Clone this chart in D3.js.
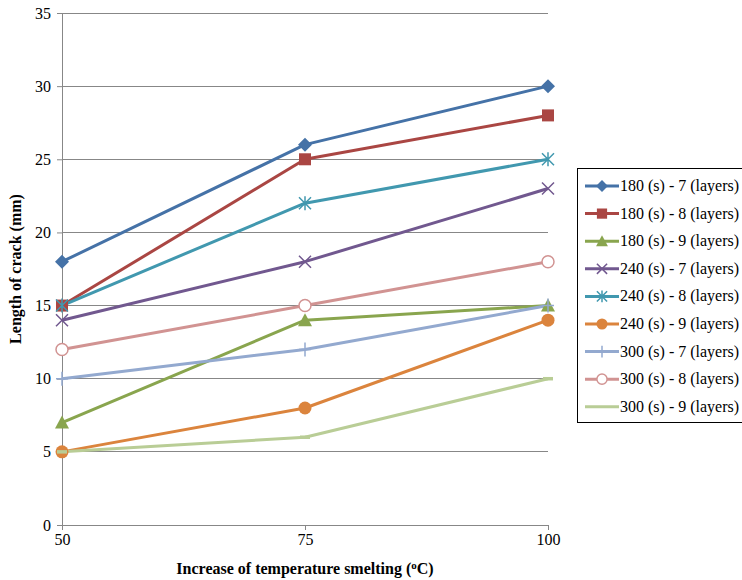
<!DOCTYPE html>
<html><head><meta charset="utf-8">
<script src="https://cdn.jsdelivr.net/npm/d3@7"></script>
<style>body{margin:0;background:#fff}svg{display:block}</style>
</head><body>
<script>
const categories = [50, 75, 100];
const seriesNames = ["180 (s) - 7 (layers)","180 (s) - 8 (layers)","180 (s) - 9 (layers)","240 (s) - 7 (layers)","240 (s) - 8 (layers)","240 (s) - 9 (layers)","300 (s) - 7 (layers)","300 (s) - 8 (layers)","300 (s) - 9 (layers)"];
const s180_7 = [18, 26, 30];
const s180_8 = [15, 25, 28];
const s180_9 = [7, 14, 15];
const s240_7 = [14, 18, 23];
const s240_8 = [15, 22, 25];
const s240_9 = [5, 8, 14];
const s300_7 = [10, 12, 15];
const s300_8 = [12, 15, 18];
const s300_9 = [5, 6, 10];
const yTicks = [0, 5, 10, 15, 20, 25, 30, 35];
const colors = ["#4572A7","#AA4643","#89A54E","#71588F","#4198AF","#DB843D","#93A9CF","#D19392","#B9CD96"];
const markers = ["diamond","square","triangle","x","asterisk","circle","plus","ocircle","dash"];
const allSeries = [s180_7,s180_8,s180_9,s240_7,s240_8,s240_9,s300_7,s300_8,s300_9];

const W = 742, H = 580;
const FONT = "Liberation Serif";
const svg = d3.select("body").append("svg").attr("width", W).attr("height", H)
  .style("font-family", FONT);
const x = d3.scaleLinear().domain([50, 100]).range([62, 548]);
const y = d3.scaleLinear().domain([0, 35]).range([525, 13]);

// gridlines
svg.append("g").selectAll("line").data(yTicks.filter(d => d > 0)).join("line")
  .attr("x1", x(50)).attr("x2", x(100)).attr("y1", d => y(d)).attr("y2", d => y(d))
  .attr("stroke", "#878787").attr("stroke-width", 1).attr("shape-rendering","crispEdges");

// axes
const yAxis = svg.append("g").attr("transform", `translate(${x(50)},0)`)
  .call(d3.axisLeft(y).tickValues(yTicks).tickSize(5).tickPadding(6));
const xAxis = svg.append("g").attr("transform", `translate(0,${y(0)})`)
  .call(d3.axisBottom(x).tickValues(categories).tickSize(5).tickPadding(4));
[yAxis, xAxis].forEach(g => {
  g.attr("font-family", null);
  g.select(".domain").attr("stroke", "#878787");
  g.selectAll(".tick line").attr("stroke", "#878787");
  g.selectAll("text").style("font-family", FONT).attr("font-size", 16).attr("fill", "#000");
});

// titles
svg.append("text").attr("x", 305).attr("y", 574).attr("text-anchor", "middle")
  .style("font-family", FONT).attr("font-size", 16).attr("font-weight", "bold")
  .html('Increase of temperature smelting (<tspan dy="-5" font-size="11">o</tspan><tspan dy="5">C)</tspan>');
svg.append("text").attr("transform", "translate(21,269) rotate(-90)").attr("text-anchor", "middle")
  .style("font-family", FONT).attr("font-size", 16).attr("font-weight", "bold")
  .text("Length of crack (mm)");

function drawMarker(g, type, color, cx, cy, s) {
  const sz = s || 1;
  switch (type) {
    case "diamond":
      g.append("path").attr("d", `M${cx},${cy-7*sz}L${cx+7*sz},${cy}L${cx},${cy+7*sz}L${cx-7*sz},${cy}Z`).attr("fill", color); break;
    case "square":
      g.append("rect").attr("x", cx-6*sz).attr("y", cy-6*sz).attr("width", 12*sz).attr("height", 12*sz).attr("fill", color); break;
    case "triangle":
      g.append("path").attr("d", `M${cx},${cy-7*sz}L${cx+7*sz},${cy+6*sz}L${cx-7*sz},${cy+6*sz}Z`).attr("fill", color); break;
    case "x":
      g.append("path").attr("d", `M${cx-6*sz},${cy-6*sz}L${cx+6*sz},${cy+6*sz}M${cx+6*sz},${cy-6*sz}L${cx-6*sz},${cy+6*sz}`).attr("stroke", color).attr("stroke-width", 1.5); break;
    case "asterisk":
      g.append("path").attr("d", `M${cx-6*sz},${cy-6*sz}L${cx+6*sz},${cy+6*sz}M${cx+6*sz},${cy-6*sz}L${cx-6*sz},${cy+6*sz}M${cx},${cy-7*sz}L${cx},${cy+7*sz}`).attr("stroke", color).attr("stroke-width", 1.5); break;
    case "circle":
      g.append("circle").attr("cx", cx).attr("cy", cy).attr("r", 6.5*sz).attr("fill", color); break;
    case "plus":
      g.append("path").attr("d", `M${cx},${cy-7*sz}L${cx},${cy+7*sz}M${cx-6*sz},${cy}L${cx+6*sz},${cy}`).attr("stroke", color).attr("stroke-width", 1.5); break;
    case "ocircle":
      g.append("circle").attr("cx", cx).attr("cy", cy).attr("r", 6*sz).attr("fill", "#fff").attr("stroke", color).attr("stroke-width", 1.5); break;
    case "dash":
      g.append("path").attr("d", `M${cx-5*sz},${cy}L${cx+5*sz},${cy}`).attr("stroke", color).attr("stroke-width", 3.5); break;
  }
}

const line = d3.line().x((d, i) => x(categories[i])).y(d => y(d));
const plot = svg.append("g");
allSeries.forEach((vals, k) => {
  plot.append("path").attr("d", line(vals)).attr("fill", "none").attr("stroke", colors[k]).attr("stroke-width", 3).attr("stroke-linejoin","round");
});
allSeries.forEach((vals, k) => {
  const g = plot.append("g");
  vals.forEach((v, i) => drawMarker(g, markers[k], colors[k], x(categories[i]), y(v)));
});

// legend
const lg = svg.append("g");
lg.append("rect").attr("x", 577.5).attr("y", 168.5).attr("width", 170).attr("height", 254)
  .attr("fill", "#fff").attr("stroke", "#000").attr("stroke-width", 1);
seriesNames.forEach((name, k) => {
  const cy = 186 + k * 27.6;
  lg.append("line").attr("x1", 585).attr("x2", 619).attr("y1", cy).attr("y2", cy).attr("stroke", colors[k]).attr("stroke-width", 3);
  if (markers[k] !== "dash") drawMarker(lg, markers[k], colors[k], 602, cy, 0.85);
  lg.append("text").attr("x", 620).attr("y", cy + 5).style("font-family", FONT).attr("font-size", 16).attr("fill", "#000").text(name);
});
</script>
</body></html>
